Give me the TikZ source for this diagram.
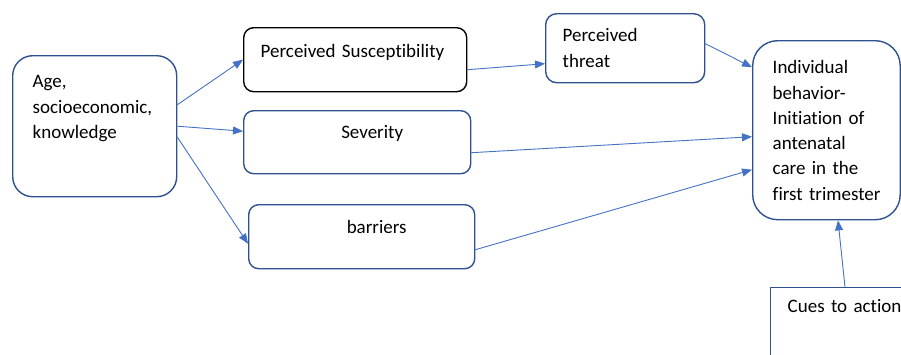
\documentclass[tikz,border=0pt]{standalone}
\usepackage{fontspec}
\setmainfont{Carlito}[Ligatures=NoCommon]
\usepackage{xcolor}
\usetikzlibrary{arrows.meta}
\definecolor{linkblue}{HTML}{4472C4}
\definecolor{edgeblue}{HTML}{2F528F}

\begin{document}
\begin{tikzpicture}[x=1pt, y=-1pt,
		font=\fontsize{19}{25.3}\selectfont,
		block/.style={draw=edgeblue, line width=1.4pt, anchor=north west, inner ysep=0pt, align=left},
		link/.style={draw=linkblue, line width=0.9pt, -{Triangle[length=10pt, width=8pt]}}]
		\clip (0,0) rectangle (901,354);
		% boxes
		\node[block, rounded corners=20pt, inner xsep=20pt, text width=124pt, text height=32pt, text depth=109pt] (age) at (12,55) {Age,\\socioeconomic,\\knowledge};
		\node[block, draw=black, rounded corners=10pt, inner xsep=17pt, text width=189pt, text height=30pt, text depth=34pt] (susc) at (243,27) {Perceived Susceptibility};
		\node[block, rounded corners=10pt, inner xsep=17pt, text width=193pt, text height=28pt, text depth=35pt, align=center] (sev) at (243,110) {\hspace*{30pt}Severity};
		\node[block, rounded corners=10pt, inner xsep=17pt, text width=192pt, text height=29pt, text depth=35pt, align=center] (barr) at (248,204) {\hspace*{30pt}barriers};
		\node[block, rounded corners=11pt, inner xsep=17pt, text width=125pt, text height=28pt, text depth=41pt] (threat) at (545,13) {Perceived\\threat};
		\node[block, rounded corners=25pt, inner xsep=20pt, text width=107.5pt, text height=33pt, text depth=146pt] (indiv) at (752,40) {Individual\\behavior-\\Initiation of\\antenatal\\care in the\\first~trimester};
		\node[block, inner xsep=17pt, text width=180pt, text height=25pt, text depth=80pt] (cues) at (770,287) {Cues to action};
		% arrows
		\draw[link] ([yshift=21.5pt]age.east) -- (susc.west);
		\draw[link] (age.east) -- ([yshift=11pt]sev.west);
		\draw[link] ([yshift=-11pt]age.east) -- ([yshift=-7pt]barr.west);
		\draw[link] ([yshift=-10pt]susc.east) -- ([yshift=-15.5pt]threat.west);
		\draw[link] ([yshift=4.5pt]threat.east) -- ([yshift=63pt]indiv.west);
		\draw[link] ([yshift=-10.5pt]sev.east) -- ([yshift=-6.5pt]indiv.west);
		\draw[link] ([yshift=-13pt]barr.east) -- ([yshift=-39.5pt]indiv.west);
		\draw[link] ([xshift=75pt]cues.north west) -- ([xshift=86pt]indiv.south west);
	\end{tikzpicture}
\end{document}
